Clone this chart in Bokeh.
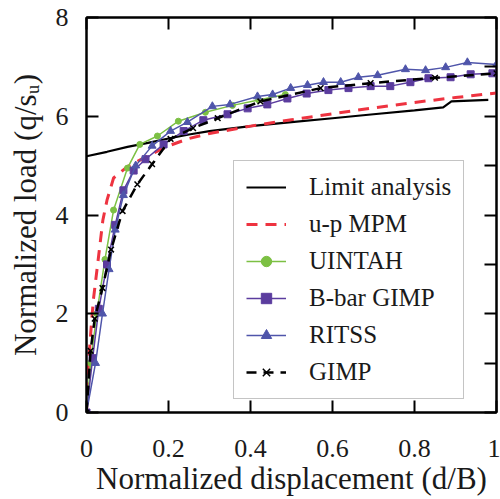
from bokeh.plotting import figure
from bokeh.models import (Range1d, LinearAxis, FixedTicker, Legend, LegendItem, CustomJSTickFormatter)
from bokeh.embed import file_html
from bokeh.resources import INLINE

# ---- data ----
limit_x = [0, 0.05, 0.1, 0.15, 0.2, 0.25, 0.3, 0.4, 0.5, 0.6, 0.7, 0.8, 0.87, 0.89, 0.98]
limit_y = [5.19, 5.28, 5.38, 5.46, 5.55, 5.63, 5.7, 5.8, 5.88, 5.96, 6.04, 6.12, 6.18, 6.3, 6.33]

upmpm_x = [0, 0.005, 0.012, 0.017, 0.03, 0.04, 0.05, 0.066, 0.1, 0.15, 0.2, 0.25, 0.3, 0.4, 0.5, 0.6, 0.7, 0.8, 0.9, 1.0]
upmpm_y = [0, 1.0, 1.8, 2.3, 3.2, 3.9, 4.3, 4.75, 4.98, 5.2, 5.4, 5.55, 5.65, 5.8, 5.93, 6.05, 6.17, 6.28, 6.38, 6.47]

uintah_x = [0, 0.01, 0.025, 0.045, 0.066, 0.1, 0.13, 0.173, 0.224, 0.29, 0.356, 0.42, 0.485]
uintah_y = [0, 1.0, 2.0, 3.1, 4.1, 4.95, 5.43, 5.6, 5.9, 6.08, 6.22, 6.33, 6.44]

bbar_x = [0, 0.015, 0.03, 0.05, 0.07, 0.09, 0.115, 0.144, 0.188, 0.237, 0.285, 0.344, 0.393, 0.441,
          0.49, 0.537, 0.59, 0.639, 0.693, 0.741, 0.79, 0.834, 0.888, 0.937, 0.99]
bbar_y = [0, 1.1, 2.1, 3.0, 3.8, 4.5, 4.9, 5.13, 5.43, 5.7, 5.92, 6.04, 6.16, 6.24,
          6.36, 6.46, 6.53, 6.57, 6.61, 6.61, 6.69, 6.77, 6.79, 6.85, 6.87]

ritss_x = [0, 0.022, 0.039, 0.055, 0.07, 0.09, 0.12, 0.16, 0.205, 0.246, 0.307, 0.35, 0.417, 0.454,
           0.498, 0.539, 0.578, 0.62, 0.663, 0.71, 0.778, 0.827, 0.876, 0.929, 1.0]
ritss_y = [0, 1.0, 2.0, 2.9, 3.7, 4.4, 5.0, 5.4, 5.7, 5.88, 6.2, 6.24, 6.4, 6.44,
           6.57, 6.63, 6.69, 6.69, 6.79, 6.83, 6.95, 6.93, 6.99, 7.09, 7.05]

gimp_x = [0, 0.01, 0.02, 0.039, 0.06, 0.088, 0.124, 0.16, 0.205, 0.26, 0.32, 0.424, 0.571, 0.693, 0.85, 1.0]
gimp_y = [0, 1.25, 1.9, 2.52, 3.3, 4.08, 4.62, 5.03, 5.54, 5.76, 5.96, 6.3, 6.57, 6.67, 6.78, 6.87]

x_ticks = [0, 0.2, 0.4, 0.6, 0.8, 1]
y_ticks = [0, 2, 4, 6, 8]
y_minor_ticks = [0, 1, 2, 3, 4, 5, 6, 7, 8]

FONT = "Liberation Serif"
TXT = "#1a1a1a"

p = figure(width=500, height=499, output_backend="svg", toolbar_location=None,
           x_range=Range1d(0, 1), y_range=Range1d(0, 8),
           x_axis_label="Normalized displacement (d/B)",
           y_axis_label="Normalized load (q/s\u1d64)",
           min_border_left=86, min_border_right=4, min_border_top=17, min_border_bottom=87)
p.grid.visible = False
p.outline_line_color = "black"
p.outline_line_width = 2
p.background_fill_color = "white"
p.border_fill_color = "white"

p.xaxis.ticker = FixedTicker(ticks=x_ticks)
p.yaxis.ticker = FixedTicker(ticks=y_ticks)
p.xaxis.major_label_overrides = {0: "0", 1: "1"}
p.yaxis.major_label_overrides = {0: "0", 2: "2", 4: "4", 6: "6", 8: "8"}
for ax in (p.xaxis[0], p.yaxis[0]):
    ax.major_tick_in = 12
    ax.major_tick_out = 0
    ax.minor_tick_in = 0
    ax.minor_tick_out = 0
    ax.axis_line_width = 2
    ax.major_tick_line_width = 2
    ax.major_label_text_font = FONT
    ax.major_label_text_font_size = "26px"
    ax.major_label_text_color = TXT
    ax.axis_label_text_font = FONT
    ax.axis_label_text_font_size = "31px"
    ax.axis_label_text_font_style = "normal"
    ax.axis_label_text_color = TXT
p.xaxis.major_label_standoff = 27
p.xaxis.axis_label_standoff = 1
p.yaxis.major_label_standoff = 18
p.yaxis.axis_label_standoff = 10

top = LinearAxis(ticker=FixedTicker(ticks=x_ticks), formatter=CustomJSTickFormatter(code="return ''"),
                 major_label_standoff=0, major_tick_in=12, major_tick_out=0,
                 minor_tick_in=0, minor_tick_out=0, axis_line_width=2, major_tick_line_width=2)
right = LinearAxis(ticker=FixedTicker(ticks=y_minor_ticks), formatter=CustomJSTickFormatter(code="return ''"),
                   major_label_standoff=0, major_tick_in=12, major_tick_out=0,
                   minor_tick_in=0, minor_tick_out=0, axis_line_width=2, major_tick_line_width=2)
p.add_layout(top, "above")
p.add_layout(right, "right")

GREEN = "#7cc043"
PURPLE = "#5b3c9e"
BLUE = "#4f55aa"
RED = "#ee3340"

r_lim = p.line(limit_x, limit_y, color="black", line_width=2.2)
r_up = p.line(upmpm_x, upmpm_y, color=RED, line_width=3, line_dash="11 8")
r_ui = p.line(uintah_x, uintah_y, color=GREEN, line_width=1.5)
r_uim = p.scatter(uintah_x, uintah_y, marker="circle", size=6, color=GREEN)
r_bb = p.line(bbar_x, bbar_y, color=PURPLE, line_width=1.5)
r_bbm = p.scatter(bbar_x, bbar_y, marker="square", size=7, color=PURPLE)
r_ri = p.line(ritss_x, ritss_y, color=BLUE, line_width=1.5)
r_rim = p.scatter(ritss_x, ritss_y, marker="triangle", size=8, color=BLUE)
r_gi = p.line(gimp_x, gimp_y, color="black", line_width=2.5, line_dash="10 7")
r_gim = p.scatter(gimp_x, gimp_y, marker="x", size=8, color="black", line_width=1.5)

legend = Legend(items=[
    LegendItem(label="Limit analysis", renderers=[r_lim]),
    LegendItem(label="u-p MPM", renderers=[r_up]),
    LegendItem(label="UINTAH", renderers=[r_ui, r_uim]),
    LegendItem(label="B-bar GIMP", renderers=[r_bb, r_bbm]),
    LegendItem(label="RITSS", renderers=[r_ri, r_rim]),
    LegendItem(label="GIMP", renderers=[r_gi, r_gim]),
], location=(147, 13))
legend.label_text_font = FONT
legend.label_text_font_size = "25px"
legend.label_text_color = TXT
legend.glyph_width = 40
legend.glyph_height = 26
legend.label_height = 26
legend.label_standoff = 23
legend.spacing = 9
legend.padding = 12
legend.margin = 0
legend.border_line_color = "#8a8a8a"
legend.border_line_width = 1
legend.background_fill_color = "white"
legend.background_fill_alpha = 1
p.add_layout(legend, "center")

open("out.html", "w").write(file_html(p, INLINE))
